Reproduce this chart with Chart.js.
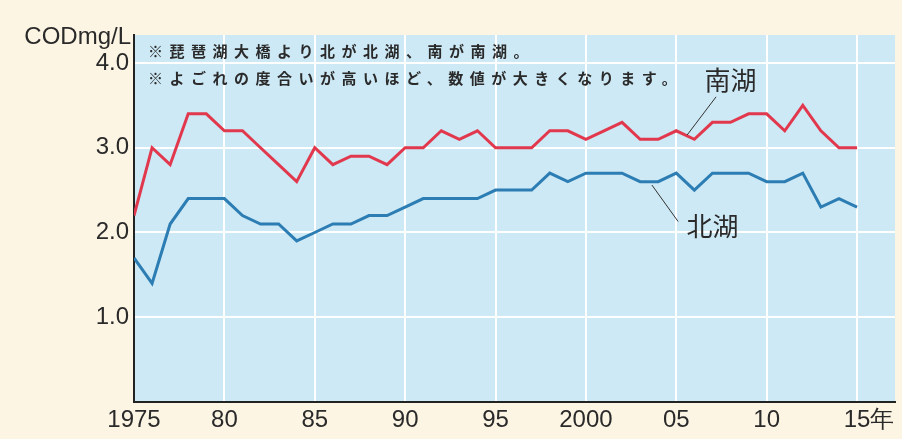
<!DOCTYPE html>
<html><head><meta charset="utf-8">
<script src="https://cdn.jsdelivr.net/npm/chart.js@4/dist/chart.umd.min.js"></script>
<style>html,body{margin:0;padding:0;background:#fdf5e4;}#wrap{width:902px;height:439px;}</style>
</head><body><div id="wrap"><canvas id="c" width="902" height="439"></canvas></div>
<script>
const years = [1975,1976,1977,1978,1979,1980,1981,1982,1983,1984,1985,1986,1987,1988,1989,1990,1991,1992,1993,1994,1995,1996,1997,1998,1999,2000,2001,2002,2003,2004,2005,2006,2007,2008,2009,2010,2011,2012,2013,2014,2015];
const southLake = [2.2,3.0,2.8,3.4,3.4,3.2,3.2,3.0,2.8,2.6,3.0,2.8,2.9,2.9,2.8,3.0,3.0,3.2,3.1,3.2,3.0,3.0,3.0,3.2,3.2,3.1,3.2,3.3,3.1,3.1,3.2,3.1,3.3,3.3,3.4,3.4,3.2,3.5,3.2,3.0,3.0];
const northLake = [1.7,1.4,2.1,2.4,2.4,2.4,2.2,2.1,2.1,1.9,2.0,2.1,2.1,2.2,2.2,2.3,2.4,2.4,2.4,2.4,2.5,2.5,2.5,2.7,2.6,2.7,2.7,2.7,2.6,2.6,2.7,2.5,2.7,2.7,2.7,2.6,2.6,2.7,2.3,2.4,2.3];
const xTickValues = [1975,1980,1985,1990,1995,2000,2005,2010,2015];
const xTickLabels = ["1975","80","85","90","95","2000","05","10","\u2002\u200215年"];
const yTickValues = [1,2,3,4];
const yTickLabels = ["1.0","2.0","3.0","4.0"];
const axisTitle = "CODmg/L";
const notes = ["※琵琶湖大橋より北が北湖、南が南湖。","※よごれの度合いが高いほど、数値が大きくなります。"];
const seriesNames = ["南湖","北湖"];

const bgPlugin = {
  id:'bg',
  beforeDraw(chart){
    const {ctx, chartArea:a} = chart;
    ctx.save();
    ctx.fillStyle = '#fdf5e4';
    ctx.fillRect(0,0,chart.width,chart.height);
    ctx.fillStyle = '#cde9f5';
    ctx.fillRect(a.left,a.top,a.right-a.left,a.bottom-a.top);
    ctx.restore();
  }
};
const textPlugin = {
  id:'texts',
  afterDatasetsDraw(chart){
    const {ctx, chartArea:a, scales:{x,y}} = chart;
    ctx.save();
    ctx.fillStyle = '#2a2a2a';
    ctx.textBaseline = 'middle';
    // axis title
    ctx.font = '24px "Liberation Sans", Arial, sans-serif';
    ctx.textAlign = 'right';
    ctx.fillText(axisTitle, a.left-3, 37);
    // notes
    ctx.font = 'bold 15px "Noto Sans CJK JP", sans-serif';
    ctx.textAlign = 'left';
    ctx.letterSpacing = '6.5px';
    ctx.fillText(notes[0], a.left+14, a.top+16);
    ctx.fillText(notes[1], a.left+14, a.top+43);
    ctx.letterSpacing = '0px';
    // series labels
    ctx.font = '26px "Noto Sans CJK JP", sans-serif';
    ctx.textAlign = 'center';
    ctx.fillText(seriesNames[0], x.getPixelForValue(2008.0), y.getPixelForValue(3.8));
    ctx.fillText(seriesNames[1], x.getPixelForValue(2007.0), y.getPixelForValue(2.07));
    // leader lines
    ctx.strokeStyle = '#333';
    ctx.lineWidth = 1;
    ctx.beginPath();
    ctx.moveTo(x.getPixelForValue(2007.2), y.getPixelForValue(3.6));
    ctx.lineTo(x.getPixelForValue(2005.6), y.getPixelForValue(3.15));
    ctx.moveTo(x.getPixelForValue(2003.65), y.getPixelForValue(2.56));
    ctx.lineTo(x.getPixelForValue(2005.1), y.getPixelForValue(2.13));
    ctx.stroke();
    ctx.restore();
  }
};

new Chart(document.getElementById('c'), {
  type:'line',
  data:{
    datasets:[
      {label:seriesNames[0], data:years.map((yr,i)=>({x:yr,y:southLake[i]})), borderColor:'#e2384d', borderWidth:3, pointRadius:0, tension:0, fill:false},
      {label:seriesNames[1], data:years.map((yr,i)=>({x:yr,y:northLake[i]})), borderColor:'#2c7db3', borderWidth:3, pointRadius:0, tension:0, fill:false}
    ]
  },
  options:{
    responsive:false, animation:false,
    layout:{padding:{top:35,right:7,left:0,bottom:0}},
    plugins:{legend:{display:false}, tooltip:{enabled:false}},
    scales:{
      x:{type:'linear', min:1975, max:2017.1,
        afterBuildTicks(s){ s.ticks = xTickValues.map(v=>({value:v})); },
        afterFit(s){ s.height = 37; },
        ticks:{callback:(v)=>{const i=xTickValues.indexOf(v); return i>=0?xTickLabels[i]:'';}, maxRotation:0, autoSkip:false, padding:4,
          color:'#2a2a2a', font:{family:'"Liberation Sans", Arial', size:24}},
        grid:{color:'#ffffff', lineWidth:2, drawTicks:false},
        border:{display:true, color:'#222', width:2}
      },
      y:{type:'linear', min:0, max:4.33,
        afterBuildTicks(s){ s.ticks = yTickValues.map(v=>({value:v})); },
        afterFit(s){ s.width = 134; },
        ticks:{callback:(v)=>{const i=yTickValues.indexOf(v); return i>=0?yTickLabels[i]:'';}, padding:5,
          color:'#2a2a2a', font:{family:'"Liberation Sans", Arial', size:24}},
        grid:{color:'#ffffff', lineWidth:2, drawTicks:false},
        border:{display:true, color:'#222', width:2}
      }
    }
  },
  plugins:[bgPlugin, textPlugin]
});
</script></body></html>
